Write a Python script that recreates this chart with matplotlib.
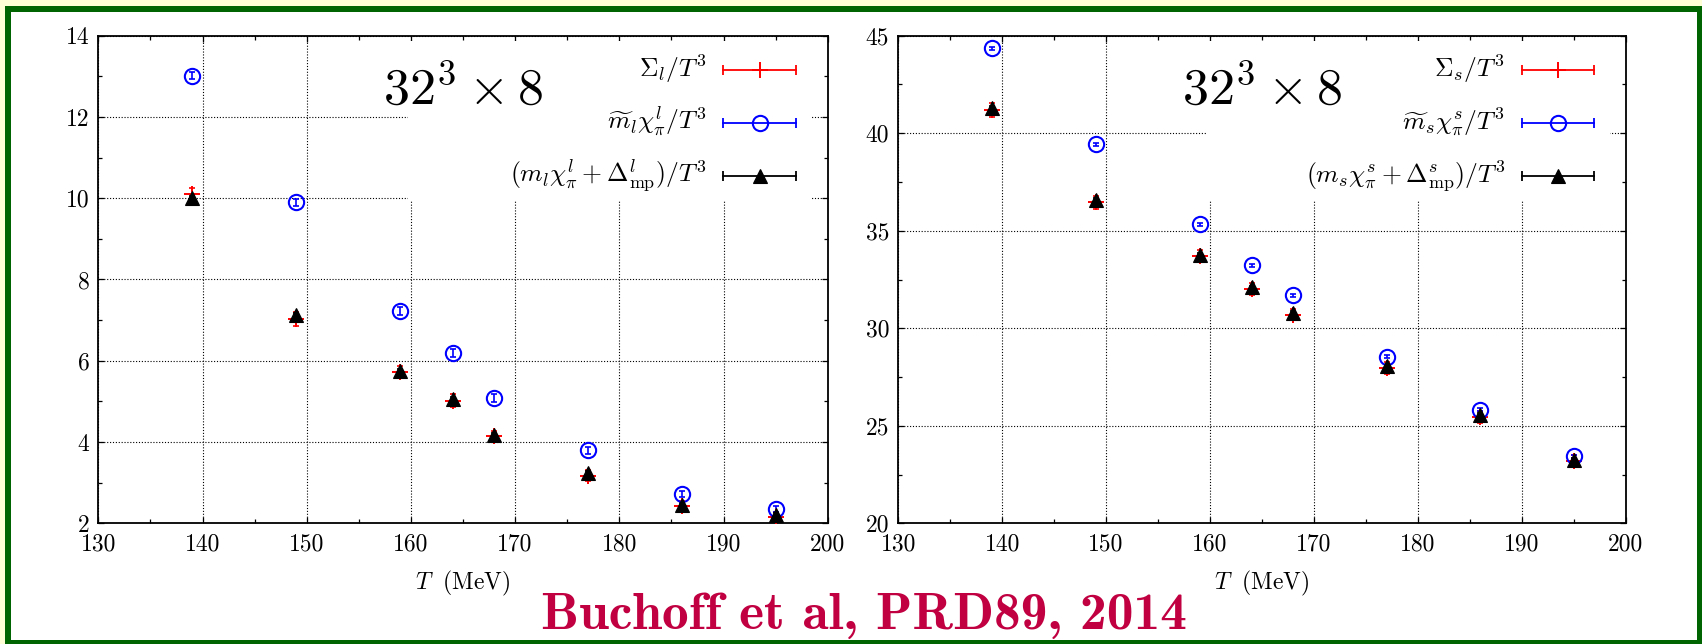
import matplotlib
matplotlib.use("Agg")
import matplotlib.pyplot as plt
from matplotlib.patches import Rectangle
from matplotlib.ticker import MultipleLocator, FormatStrFormatter

plt.rcParams['font.family'] = 'cmr10'
plt.rcParams['mathtext.fontset'] = 'cm'
plt.rcParams['axes.formatter.use_mathtext'] = True

# ---------------------------------------------------------------- data
T = [139, 149, 159, 164, 168, 177, 186, 195]

# light quarks
sigma_l = [10.10, 7.02, 5.73, 5.02, 4.15, 3.17, 2.42, 2.15]
sigma_l_err = [0.15, 0.17, 0.15, 0.15, 0.13, 0.13, 0.12, 0.12]
mchi_l = [13.02, 9.90, 7.22, 6.20, 5.08, 3.80, 2.72, 2.35]
mchi_l_err = [0.08, 0.08, 0.10, 0.10, 0.10, 0.09, 0.08, 0.07]
sub_l = [10.00, 7.12, 5.75, 5.07, 4.18, 3.24, 2.46, 2.20]
sub_l_err = [0.05, 0.05, 0.05, 0.05, 0.05, 0.05, 0.05, 0.05]

# strange quarks
sigma_s = [41.20, 36.45, 33.70, 32.00, 30.70, 27.95, 25.45, 23.20]
sigma_s_err = [0.35, 0.35, 0.30, 0.30, 0.30, 0.30, 0.30, 0.30]
mchi_s = [44.35, 39.43, 35.34, 33.22, 31.68, 28.55, 25.82, 23.43]
mchi_s_err = [0.08, 0.08, 0.08, 0.08, 0.08, 0.08, 0.08, 0.08]
sub_s = [41.30, 36.60, 33.77, 32.09, 30.79, 28.04, 25.53, 23.26]
sub_s_err = [0.10, 0.10, 0.10, 0.10, 0.10, 0.10, 0.10, 0.10]

labels_l = [r'$\Sigma_l/T^3$',
            r'$\widetilde{m}_l\chi_\pi^l/T^3$',
            r'$(m_l\chi_\pi^l+\Delta_{\rm mp}^l)/T^3$']
labels_s = [r'$\Sigma_s/T^3$',
            r'$\widetilde{m}_s\chi_\pi^s/T^3$',
            r'$(m_s\chi_\pi^s+\Delta_{\rm mp}^s)/T^3$']

lattice = r'$32^3\times 8$'
xlabel = r'$T\;$ (MeV)'
citation = 'Buchoff et al, PRD89, 2014'

# ---------------------------------------------------------------- figure
W, H = 1702, 644
fig = plt.figure(figsize=(W / 100, H / 100), dpi=100)
fig.patch.set_facecolor('#FFFFD6')

green = '#006400'
fig.add_artist(Rectangle((4.6 / W, 0), 1 - 4.6 / W, 1 - 6 / H,
                         transform=fig.transFigure, facecolor=green,
                         edgecolor='none', zorder=-10))
fig.add_artist(Rectangle((10.7 / W, 4.5 / H), (1697 - 10.7) / W,
                         (644 - 12 - 4.5) / H,
                         transform=fig.transFigure, facecolor='white',
                         edgecolor='none', zorder=-9))

axL = fig.add_axes([98.3 / W, (H - 523.3) / H, 729.4 / W, 487.6 / H])
axR = fig.add_axes([898.3 / W, (H - 523.3) / H, 727.4 / W, 487.6 / H])

styles = [dict(color='red', marker='+', ms=11, mew=1.4, mfc='red'),
          dict(color='blue', marker='o', ms=11, mew=1.5, mfc='none'),
          dict(color='black', marker='^', ms=9.5, mew=0.8, mfc='black')]


def panel(ax, series, labels, ylim, ymajor, yminor, blank):
    ax.set_xlim(130, 200)
    ax.set_ylim(*ylim)
    ax.xaxis.set_major_locator(MultipleLocator(10))
    ax.xaxis.set_minor_locator(MultipleLocator(5))
    ax.yaxis.set_major_locator(MultipleLocator(ymajor))
    ax.yaxis.set_minor_locator(MultipleLocator(yminor))
    ax.xaxis.set_major_formatter(FormatStrFormatter('%d'))
    ax.yaxis.set_major_formatter(FormatStrFormatter('%d'))
    ax.tick_params(which='both', direction='in', top=True, right=True,
                   labelsize=17, width=0.9)
    ax.tick_params(which='major', length=4.3)
    ax.tick_params(which='minor', length=2.9)
    ax.tick_params(axis='x', pad=7.5)
    ax.tick_params(axis='y', pad=6.5)
    for s in ax.spines.values():
        s.set_linewidth(1.3)
    ax.set_axisbelow(True)
    ax.grid(True, which='major', color='black', linewidth=0.8,
            linestyle=(0, (1, 1.6)))
    # keep the grid clear behind the lattice label and the key
    ax.add_patch(Rectangle((blank[0], blank[1]), blank[2] - blank[0],
                           blank[3] - blank[1], transform=ax.transAxes,
                           facecolor='white', edgecolor='none', zorder=1))

    for (vals, errs), st in zip(series, styles):
        ax.errorbar(T, vals, yerr=errs, fmt='none', ecolor=st['color'],
                    elinewidth=1.2, capsize=2.5, capthick=1.2, zorder=3)
        ax.plot(T, vals, linestyle='none', zorder=4, **st)

    ax.text(0.39, 0.858, lattice, transform=ax.transAxes, fontsize=37.5,
            ha='left', va='baseline')

    rows = [0.929, 0.821, 0.713]
    for lab, st, y in zip(labels, styles, rows):
        ax.text(0.834, y - 0.013, lab, transform=ax.transAxes, fontsize=18.5,
                ha='right', va='baseline')
        ax.plot([0.857, 0.956], [y, y], transform=ax.transAxes,
                color=st['color'], lw=1.3, clip_on=False, zorder=3)
        ax.plot([0.857, 0.956], [y, y], transform=ax.transAxes,
                color=st['color'], marker='|', ms=7, mew=1.3,
                linestyle='none', clip_on=False, zorder=3)
        ax.plot([0.9065], [y], transform=ax.transAxes, linestyle='none',
                clip_on=False, zorder=4, **st)

    ax.set_xlabel(xlabel, fontsize=17)
    ax.xaxis.set_label_coords(0.5, -0.135)
    ax.xaxis.label.set_verticalalignment('baseline')


panel(axL, [(sigma_l, sigma_l_err), (mchi_l, mchi_l_err), (sub_l, sub_l_err)],
      labels_l, (2, 14), 2, 1, (0.424, 0.662, 0.977, 0.99))
panel(axR, [(sigma_s, sigma_s_err), (mchi_s, mchi_s_err), (sub_s, sub_s_err)],
      labels_s, (20, 45), 5, 2.5, (0.424, 0.66, 0.979, 0.99))

fig.text(864 / W, (H - 629) / H, citation, fontfamily='cmb10', fontsize=38.5,
         color='#C00040', ha='center', va='baseline')

fig.savefig('out.png', dpi=100, facecolor=fig.get_facecolor())
